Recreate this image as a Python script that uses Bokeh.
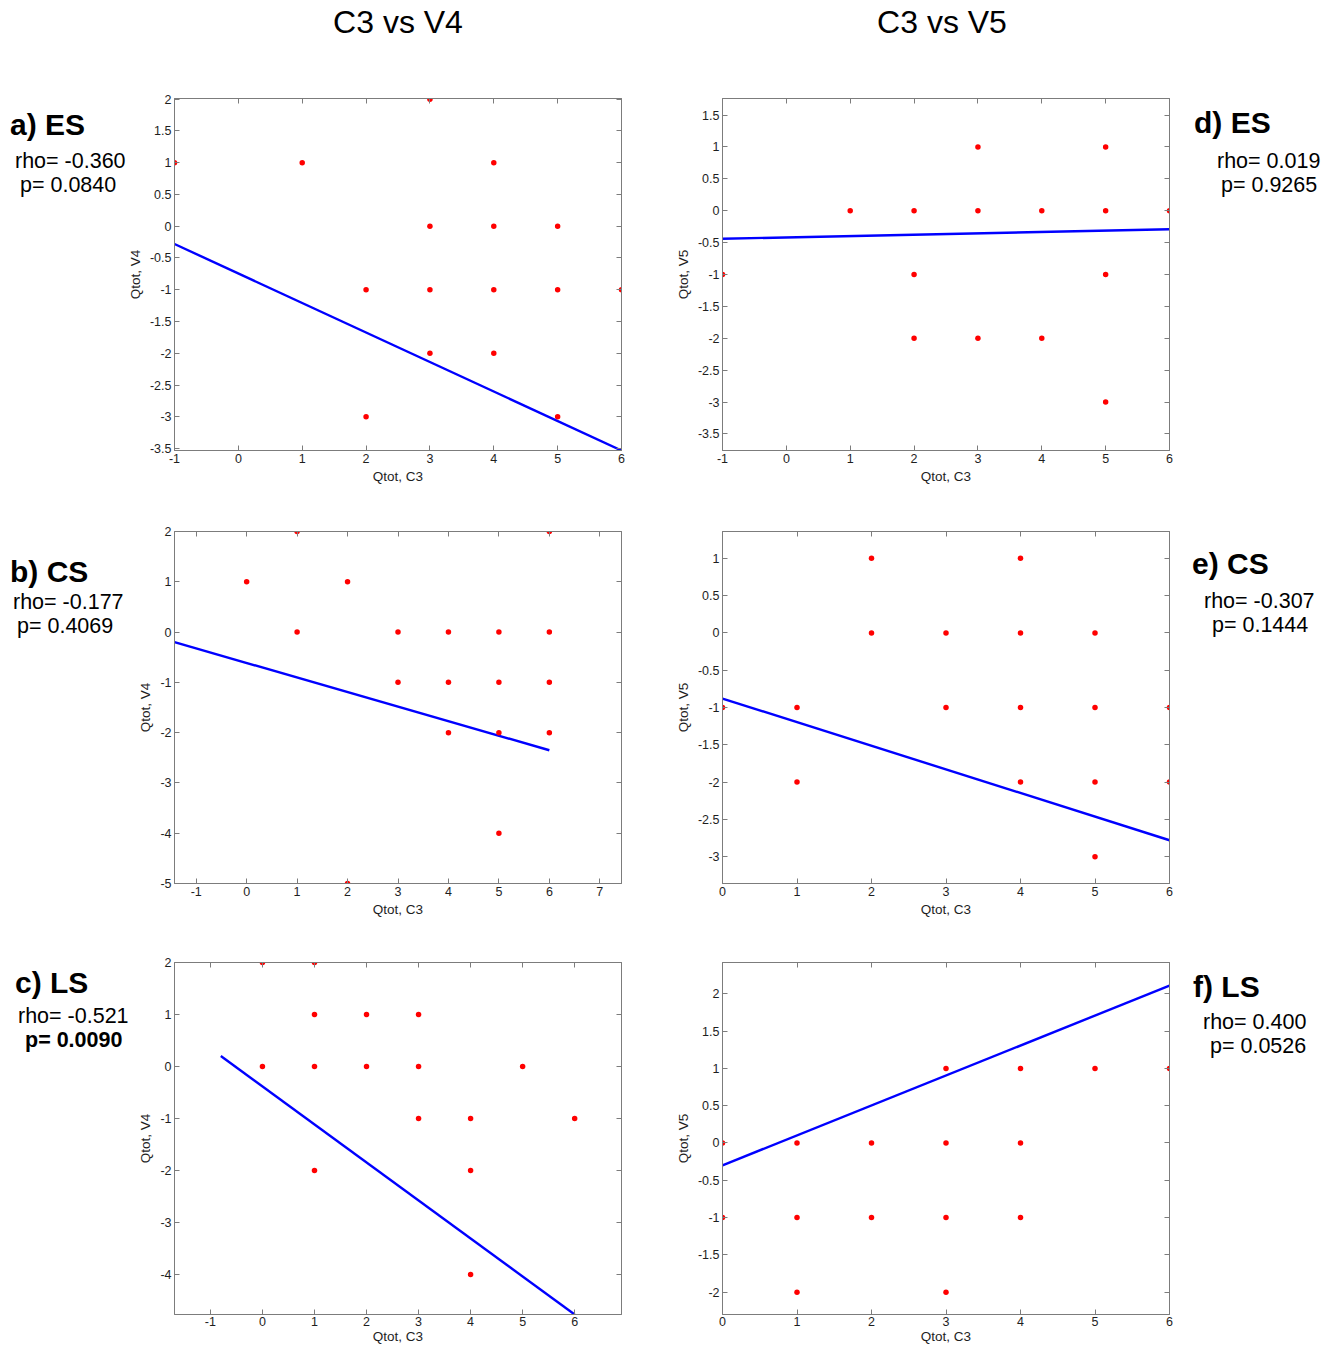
from bokeh.plotting import figure
from bokeh.models import Range1d, FixedTicker, LinearAxis, CustomJSTickFormatter, Div
from bokeh.layouts import column, row
from bokeh.embed import file_html
from bokeh.resources import INLINE

# ---------------- data ----------------
col_titles = ["C3 vs V4", "C3 vs V5"]
x_label = "Qtot, C3"
y_labels = ["Qtot, V4", "Qtot, V5"]

# a) ES  (C3 vs V4)
a_x = [-1, 1, 3, 4, 3, 4, 5, 2, 3, 4, 5, 6, 3, 4, 2, 5]
a_y = [1, 1, 2, 1, 0, 0, 0, -1, -1, -1, -1, -1, -2, -2, -3, -3]
a_fit_x = [-1, 6]
a_fit_y = [-0.28, -3.53]
a_xticks = [-1, 0, 1, 2, 3, 4, 5, 6]
a_yticks = [-3.5, -3, -2.5, -2, -1.5, -1, -0.5, 0, 0.5, 1, 1.5, 2]
a_text = ["a) ES", "rho= -0.360", "p= 0.0840"]

# b) CS  (C3 vs V4)
b_x = [1, 6, 0, 2, 1, 3, 4, 5, 6, 3, 4, 5, 6, 4, 5, 6, 5, 2]
b_y = [2, 2, 1, 1, 0, 0, 0, 0, 0, -1, -1, -1, -1, -2, -2, -2, -4, -5]
b_fit_x = [-1.43, 6]
b_fit_y = [-0.20, -2.35]
b_xticks = [-1, 0, 1, 2, 3, 4, 5, 6, 7]
b_yticks = [-5, -4, -3, -2, -1, 0, 1, 2]
b_text = ["b) CS", "rho= -0.177", "p= 0.4069"]

# c) LS  (C3 vs V4)
c_x = [0, 1, 1, 2, 3, 0, 1, 2, 3, 5, 3, 4, 6, 1, 4, 4]
c_y = [2, 2, 1, 1, 1, 0, 0, 0, 0, 0, -1, -1, -1, -2, -2, -4]
c_fit_x = [-0.80, 6]
c_fit_y = [0.20, -4.77]
c_xticks = [-1, 0, 1, 2, 3, 4, 5, 6]
c_yticks = [-4, -3, -2, -1, 0, 1, 2]
c_text = ["c) LS", "rho= -0.521", "p= 0.0090"]

# d) ES  (C3 vs V5)
d_x = [3, 5, 1, 2, 3, 4, 5, 6, -1, 2, 5, 2, 3, 4, 5]
d_y = [1, 1, 0, 0, 0, 0, 0, 0, -1, -1, -1, -2, -2, -2, -3]
d_fit_x = [-1, 6]
d_fit_y = [-0.44, -0.29]
d_xticks = [-1, 0, 1, 2, 3, 4, 5, 6]
d_yticks = [-3.5, -3, -2.5, -2, -1.5, -1, -0.5, 0, 0.5, 1, 1.5]
d_text = ["d) ES", "rho= 0.019", "p= 0.9265"]

# e) CS  (C3 vs V5)
e_x = [2, 4, 2, 3, 4, 5, 0, 1, 3, 4, 5, 6, 1, 4, 5, 6, 5]
e_y = [1, 1, 0, 0, 0, 0, -1, -1, -1, -1, -1, -1, -2, -2, -2, -2, -3]
e_fit_x = [0, 6]
e_fit_y = [-0.88, -2.78]
e_xticks = [0, 1, 2, 3, 4, 5, 6]
e_yticks = [-3, -2.5, -2, -1.5, -1, -0.5, 0, 0.5, 1]
e_text = ["e) CS", "rho= -0.307", "p= 0.1444"]

# f) LS  (C3 vs V5)
f_x = [3, 4, 5, 6, 0, 1, 2, 3, 4, 0, 1, 2, 3, 4, 1, 3]
f_y = [1, 1, 1, 1, 0, 0, 0, 0, 0, -1, -1, -1, -1, -1, -2, -2]
f_fit_x = [0, 6]
f_fit_y = [-0.30, 2.11]
f_xticks = [0, 1, 2, 3, 4, 5, 6]
f_yticks = [-2, -1.5, -1, -0.5, 0, 0.5, 1, 1.5, 2]
f_text = ["f) LS", "rho= 0.400", "p= 0.0526"]

# ---------------- layout / style ----------------
FONT = "Liberation Sans"
BOX = "#7c7c7c"
TXT = "#1e1e1e"

HEADER_H = 60
SIDE_L_W = 122
SIDE_R_W = 146
COLS = [dict(width=548, mbl=52, mbr=49),
        dict(width=515, mbl=52, mbr=16)]
ROWS = [dict(top=60, height=430, mbt=38, mbb=40),
        dict(top=490, height=430, mbt=41, mbb=37),
        dict(top=920, height=428, mbt=42, mbb=34)]
SIDE_R_X = SIDE_L_W + COLS[0]["width"] + COLS[1]["width"]

panels = [
    dict(c=0, r=0, x=a_x, y=a_y, fx=a_fit_x, fy=a_fit_y, xt=a_xticks, yt=a_yticks,
         xr=(-1, 6), yr=(-3.53, 2.01), text=a_text,
         pos=[(10, 124, 30, True), (15, 161.5, 21.5, False), (20, 185.5, 21.5, False)]),
    dict(c=0, r=1, x=b_x, y=b_y, fx=b_fit_x, fy=b_fit_y, xt=b_xticks, yt=b_yticks,
         xr=(-1.43, 7.43), yr=(-5, 2), text=b_text,
         pos=[(10, 571, 30, True), (13, 602.5, 21.5, False), (17, 626.5, 21.5, False)]),
    dict(c=0, r=2, x=c_x, y=c_y, fx=c_fit_x, fy=c_fit_y, xt=c_xticks, yt=c_yticks,
         xr=(-1.69, 6.9), yr=(-4.77, 2.0), text=c_text,
         pos=[(15, 982, 30, True), (18, 1016.5, 21.5, False), (25, 1040.5, 21.5, True)]),
    dict(c=1, r=0, x=d_x, y=d_y, fx=d_fit_x, fy=d_fit_y, xt=d_xticks, yt=d_yticks,
         xr=(-1, 6), yr=(-3.76, 1.76), text=d_text,
         pos=[(1194, 122, 30, True), (1217, 161.5, 21.5, False), (1221, 185.5, 21.5, False)]),
    dict(c=1, r=1, x=e_x, y=e_y, fx=e_fit_x, fy=e_fit_y, xt=e_xticks, yt=e_yticks,
         xr=(0, 6), yr=(-3.36, 1.36), text=e_text,
         pos=[(1192, 563, 30, True), (1204, 601.5, 21.5, False), (1212, 625.5, 21.5, False)]),
    dict(c=1, r=2, x=f_x, y=f_y, fx=f_fit_x, fy=f_fit_y, xt=f_xticks, yt=f_yticks,
         xr=(0, 6), yr=(-2.30, 2.42), text=f_text,
         pos=[(1193, 986, 30, True), (1203, 1022.5, 21.5, False), (1210, 1046.5, 21.5, False)]),
]


def style_axis(ax, ticks, show_labels=True):
    ax.ticker = FixedTicker(ticks=ticks)
    ax.formatter = CustomJSTickFormatter(code="return String(tick);" if show_labels else "return '';")
    ax.axis_line_color = BOX
    ax.major_tick_line_color = BOX
    ax.major_tick_in = 5
    ax.major_tick_out = 0
    ax.minor_tick_line_color = None
    ax.major_label_text_font = FONT
    ax.major_label_text_font_size = "12.5px"
    ax.major_label_text_color = TXT
    ax.axis_label_text_font = FONT
    ax.axis_label_text_font_size = "13.5px"
    ax.axis_label_text_font_style = "normal"
    ax.axis_label_text_color = TXT


def span(text, left, cy, size, bold, center=False):
    top = cy - 0.44 * size
    weight = "bold" if bold else "normal"
    tr = "transform:translateX(-50%);" if center else ""
    return (f'<span style="position:absolute;left:{left}px;top:{top:.1f}px;'
            f'font-family:\'{FONT}\';font-size:{size}px;line-height:0.9;'
            f'font-weight:{weight};color:#000;white-space:nowrap;{tr}">{text}</span>')


def side_div(width, height, spans):
    html = (f'<div style="position:relative;width:{width}px;height:{height}px;'
            f'overflow:visible;">' + "".join(spans) + '</div>')
    return Div(text=html, width=width, height=height, margin=(0, 0, 0, 0),
               styles={"overflow": "visible", "z-index": "5"})


figs = {}
side_spans = {}
for pn in panels:
    C = COLS[pn["c"]]
    R = ROWS[pn["r"]]
    p = figure(width=C["width"], height=R["height"],
               x_range=Range1d(*pn["xr"]), y_range=Range1d(*pn["yr"]),
               output_backend="svg", toolbar_location=None,
               min_border_left=C["mbl"], min_border_right=C["mbr"],
               min_border_top=R["mbt"], min_border_bottom=R["mbb"],
               background_fill_color="white", border_fill_color=None)
    p.grid.visible = False
    p.outline_line_color = BOX
    style_axis(p.xaxis[0], pn["xt"])
    style_axis(p.yaxis[0], pn["yt"])
    p.xaxis[0].axis_label = x_label
    p.yaxis[0].axis_label = y_labels[pn["c"]]
    p.yaxis[0].major_label_standoff = 3
    p.yaxis[0].axis_label_standoff = 4
    if pn["r"] == 2:
        p.xaxis[0].major_label_standoff = 2
        p.xaxis[0].axis_label_standoff = 0
    else:
        p.xaxis[0].major_label_standoff = 3
        p.xaxis[0].axis_label_standoff = 3
    top = LinearAxis()
    style_axis(top, pn["xt"], show_labels=False)
    top.major_label_text_font_size = "0px"
    top.major_label_standoff = 0
    p.add_layout(top, "above")
    right = LinearAxis()
    style_axis(right, pn["yt"], show_labels=False)
    right.major_label_text_font_size = "0px"
    right.major_label_standoff = 0
    p.add_layout(right, "right")

    p.line(pn["fx"], pn["fy"], line_color="#0000ff", line_width=2.4)
    p.scatter(pn["x"], pn["y"], size=5.5, fill_color="#ff0000", line_color=None)
    figs[(pn["c"], pn["r"])] = p

    ox = 0 if pn["c"] == 0 else SIDE_R_X
    oy = R["top"]
    sp = []
    for txt, (px, py, fs, bold) in zip(pn["text"], pn["pos"]):
        sp.append(span(txt, px - ox, py - oy, fs, bold))
    side_spans[(pn["c"], pn["r"])] = sp

header = side_div(SIDE_L_W + COLS[0]["width"] + COLS[1]["width"] + SIDE_R_W, HEADER_H,
                  [span(col_titles[0], 398, 22, 32, False, center=True),
                   span(col_titles[1], 942, 22, 32, False, center=True)])

rows = []
for r in range(3):
    R = ROWS[r]
    rows.append(row(side_div(SIDE_L_W, R["height"], side_spans[(0, r)]),
                    figs[(0, r)], figs[(1, r)],
                    side_div(SIDE_R_W, R["height"], side_spans[(1, r)])))

layout = column(header, *rows)

open("out.html", "w").write(file_html(layout, INLINE))
